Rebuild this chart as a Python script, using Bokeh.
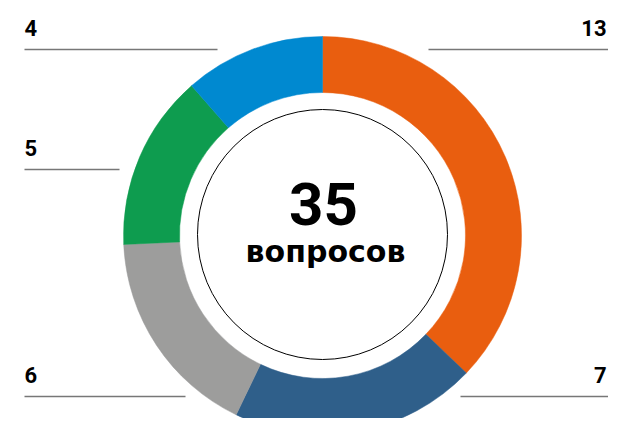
import math
from bokeh.plotting import figure
from bokeh.models import Range1d
from bokeh.core.properties import value
from bokeh.embed import file_html
from bokeh.resources import INLINE

# ---- data ----
categories = ["A", "B", "C", "D", "E"]          # order clockwise from top
counts = [13, 7, 6, 5, 4]
colors = ["#E95E0F", "#2F5F8A", "#9D9D9C", "#0E9C4F", "#0089D0"]
count_labels = ["13", "7", "6", "5", "4"]
total_label = "35"
total_caption = "вопросов"

# ---- layout (picture pixel coordinates; y measured from top) ----
W, H = 608, 418
PAGE_H = 434

def Y(py):
    return PAGE_H - py

cx, cy = 322, 235
r_out, r_in, r_ring = 199, 143, 125

# label anchor positions per category: (text_x, text_y, align, line_x0, line_x1, line_y)
label_layout = [
    (606, 27, "right", 428, 608, 49),
    (606, 374, "right", 460, 608, 396),
    (24, 374, "left", 24, 185, 396),
    (24, 147, "left", 24, 119, 169),
    (24, 27, "left", 24, 217, 49),
]

p = figure(width=W, height=H, output_backend="svg", toolbar_location=None,
           x_range=Range1d(0, W), y_range=Range1d(PAGE_H - H, PAGE_H),
           x_axis_type=None, y_axis_type=None, min_border=0)
p.outline_line_color = None
p.grid.visible = False
p.background_fill_color = "white"
p.border_fill_color = "white"

total = sum(counts)
starts, ends = [], []
cum = 0
for c in counts:
    starts.append(math.pi / 2 - 2 * math.pi * cum / total)
    cum += c
    ends.append(math.pi / 2 - 2 * math.pi * cum / total)

p.annular_wedge(x=[cx] * len(counts), y=[Y(cy)] * len(counts),
                inner_radius=r_in, outer_radius=r_out,
                start_angle=starts, end_angle=ends, direction="clock",
                fill_color=colors, line_color=colors, line_width=0.5)

p.circle(x=[cx], y=[Y(cy - 1)], radius=r_ring, fill_color=None,
         line_color="black", line_width=1)

p.text(x=[cx + 1], y=[Y(203)], text=[total_label], text_font=value("Roboto"),
       text_font_style="bold", text_font_size="60px", text_align="center",
       text_baseline="alphabetic", text_color="black")
p.text(x=[cx + 3], y=[Y(251)], text=[total_caption], text_font=value("DejaVu Sans"),
       text_font_style="bold", text_font_size="30px", text_align="center",
       text_baseline="alphabetic", text_color="black")

for lab, (tx, ty, al, lx0, lx1, ly) in zip(count_labels, label_layout):
    p.text(x=[tx], y=[Y(ty)], text=[lab], text_font=value("Roboto"),
           text_font_style="bold", text_font_size="22px", text_align=al,
           text_baseline="alphabetic", text_color="black")
    p.segment(x0=[lx0], y0=[Y(ly)], x1=[lx1], y1=[Y(ly)],
              line_color="#777777", line_width=1.5)

open("out.html", "w").write(file_html(p, INLINE))
